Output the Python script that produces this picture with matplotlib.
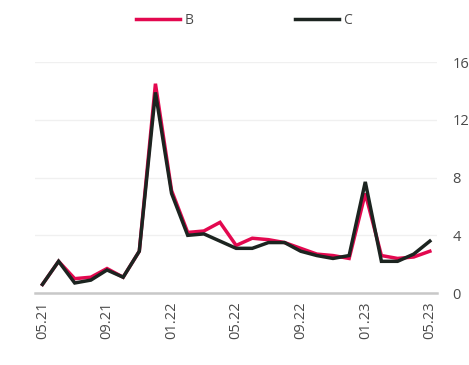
import matplotlib.pyplot as plt

# -----------------------------
# Datos (mensuales, 05.21 - 05.23)
# -----------------------------
meses = ["05.21", "06.21", "07.21", "08.21", "09.21", "10.21", "11.21", "12.21",
         "01.22", "02.22", "03.22", "04.22", "05.22", "06.22", "07.22", "08.22",
         "09.22", "10.22", "11.22", "12.22", "01.23", "02.23", "03.23", "04.23", "05.23"]

serie_b = [0.6, 2.2, 1.0, 1.1, 1.7, 1.1, 2.9, 14.5, 7.1, 4.2, 4.3, 4.9, 3.3,
           3.8, 3.7, 3.5, 3.1, 2.7, 2.6, 2.4, 6.9, 2.6, 2.4, 2.5, 2.9]
serie_c = [0.6, 2.2, 0.7, 0.9, 1.6, 1.1, 2.9, 13.9, 6.9, 4.0, 4.1, 3.6, 3.1,
           3.1, 3.5, 3.5, 2.9, 2.6, 2.4, 2.6, 7.7, 2.2, 2.2, 2.7, 3.6]

y_ticks = [0, 4, 8, 12, 16]

plt.rcParams["font.family"] = ["Open Sans", "DejaVu Sans"]

fig = plt.figure(figsize=(4.69, 3.65), dpi=100)
ax = fig.add_axes([0.075, 0.197, 0.857, 0.633])

x = list(range(len(meses)))
ax.plot(x, serie_b, color="#e3084f", lw=2.5, label="B", solid_joinstyle="miter")
ax.plot(x, serie_c, color="#1c2420", lw=2.5, label="C", solid_joinstyle="miter")

ax.set_xlim(-0.45, len(meses) - 0.55)
ax.set_ylim(0, 16)
ax.set_xticks(x[::4])
ax.set_xticklabels(meses[::4], rotation=90, fontsize=10.5, color="#4a4a4a")
ax.set_yticks(y_ticks)
ax.set_yticklabels([str(v) for v in y_ticks], fontsize=10.5, color="#4a4a4a")
ax.yaxis.tick_right()
ax.tick_params(axis="y", length=0, pad=11)
ax.tick_params(axis="x", length=0, pad=6)

ax.grid(axis="y", color="#f0f0f0", lw=1)
ax.set_axisbelow(True)
for s in ["top", "left", "right"]:
    ax.spines[s].set_visible(False)
ax.spines["bottom"].set_color("#c8c8c8")
ax.spines["bottom"].set_linewidth(1.8)

fig.legend(loc="upper center", bbox_to_anchor=(0.52, 1.0), ncol=2, frameon=False,
           fontsize=10, handlelength=3.2, handletextpad=0.3, columnspacing=7.3,
           labelcolor="#4a4a4a")

fig.savefig("out.png", dpi=100)
